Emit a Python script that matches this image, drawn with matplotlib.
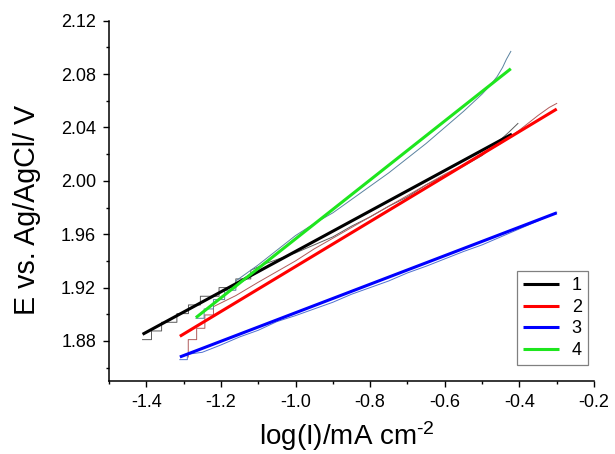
import matplotlib
matplotlib.use('Agg')
import matplotlib.pyplot as plt
from matplotlib.ticker import MultipleLocator

plt.rcParams['font.family'] = ['Liberation Sans', 'DejaVu Sans']
plt.rcParams['mathtext.default'] = 'regular'

# linear fits (Tafel lines)
fit_x1 = [-1.41, -0.42]
fit_y1 = [1.885, 2.035]
fit_x2 = [-1.31, -0.30]
fit_y2 = [1.8835, 2.0538]
fit_x3 = [-1.31, -0.30]
fit_y3 = [1.868, 1.976]
fit_x4 = [-1.267, -0.423]
fit_y4 = [1.8975, 2.084]

# measured curves (thin traces behind the fits)
dat_x1 = [-1.41, -1.386, -1.386, -1.359, -1.359, -1.318, -1.318, -1.287, -1.287, -1.255, -1.255,
          -1.205, -1.205, -1.16, -1.16, -1.12, -1.12, -1.08, -1.04, -1.00, -0.95, -0.90, -0.85,
          -0.80, -0.75, -0.70, -0.65, -0.60, -0.55, -0.50, -0.47, -0.45, -0.43, -0.404]
dat_y1 = [1.881, 1.881, 1.8875, 1.8875, 1.894, 1.894, 1.9005, 1.9005, 1.907, 1.907, 1.9135,
          1.9135, 1.920, 1.920, 1.9265, 1.9265, 1.933, 1.938, 1.942, 1.946, 1.952, 1.958, 1.966,
          1.973, 1.981, 1.988, 1.997, 2.004, 2.011, 2.019, 2.026, 2.031, 2.036, 2.043]

dat_x2 = [-1.2875, -1.2875, -1.265, -1.265, -1.243, -1.243, -1.220, -1.220, -1.16, -1.10, -1.05,
          -1.00, -0.95, -0.90, -0.85, -0.80, -0.75, -0.70, -0.65, -0.60, -0.55, -0.50, -0.45,
          -0.40, -0.35, -0.32, -0.30]
dat_y2 = [1.868, 1.881, 1.881, 1.8895, 1.8895, 1.8995, 1.8995, 1.9057, 1.914, 1.924, 1.932,
          1.940, 1.949, 1.957, 1.965, 1.973, 1.981, 1.989, 1.997, 2.005, 2.012, 2.020, 2.028,
          2.038, 2.049, 2.055, 2.058]

dat_x3 = [-1.31, -1.29, -1.29, -1.25, -1.20, -1.15, -1.10, -1.05, -1.00, -0.95, -0.90, -0.85,
          -0.80, -0.75, -0.70, -0.65, -0.60, -0.55, -0.50, -0.45, -0.40, -0.35, -0.30]
dat_y3 = [1.866, 1.866, 1.870, 1.8715, 1.877, 1.883, 1.888, 1.8945, 1.899, 1.904, 1.909, 1.915,
          1.920, 1.925, 1.931, 1.936, 1.9415, 1.947, 1.952, 1.958, 1.964, 1.970, 1.9765]

dat_x4 = [-1.267, -1.245, -1.245, -1.22, -1.22, -1.19, -1.19, -1.16, -1.16, -1.13, -1.10, -1.05,
          -1.00, -0.95, -0.90, -0.85, -0.80, -0.75, -0.70, -0.65, -0.60, -0.55, -0.50, -0.48,
          -0.46, -0.445, -0.435, -0.423]
dat_y4 = [1.897, 1.897, 1.904, 1.904, 1.911, 1.911, 1.918, 1.918, 1.925, 1.931, 1.937, 1.948,
          1.959, 1.968, 1.976, 1.986, 1.996, 2.006, 2.017, 2.028, 2.040, 2.052, 2.065, 2.071,
          2.078, 2.085, 2.091, 2.097]

labels = ['1', '2', '3', '4']
fit_colors = ['#000000', '#ff0000', '#0000ff', '#1ee61e']
dat_colors = ['#5a5a5a', '#b05a5a', '#5070d0', '#5a82a0']

fig = plt.figure(figsize=(6.15, 4.54), dpi=100)
ax = fig.add_axes([0.1772, 0.1608, 0.7887, 0.7936])

data = [(dat_x1, dat_y1), (dat_x2, dat_y2), (dat_x3, dat_y3), (dat_x4, dat_y4)]
fits = [(fit_x1, fit_y1), (fit_x2, fit_y2), (fit_x3, fit_y3), (fit_x4, fit_y4)]

for (x, y), c in zip(data, dat_colors):
    ax.plot(x, y, color=c, lw=0.7)
for (x, y), c, lab in zip(fits, fit_colors, labels):
    ax.plot(x, y, color=c, lw=2.2, label=lab, solid_capstyle='butt')

ax.set_xlim(-1.5, -0.2)
ax.set_ylim(1.85, 2.12)
ax.xaxis.set_minor_locator(MultipleLocator(0.1))
ax.yaxis.set_minor_locator(MultipleLocator(0.02))
ax.set_xticks([-1.4, -1.2, -1.0, -0.8, -0.6, -0.4, -0.2])
ax.set_xticklabels(['-1.4', '-1.2', '-1.0', '-0.8', '-0.6', '-0.4', '-0.2'])
ax.set_yticks([1.88, 1.92, 1.96, 2.00, 2.04, 2.08, 2.12])
ax.set_yticklabels(['1.88', '1.92', '1.96', '2.00', '2.04', '2.08', '2.12'])

for s in ['top', 'right']:
    ax.spines[s].set_visible(False)
for s in ['left', 'bottom']:
    ax.spines[s].set_linewidth(1.1)
ax.tick_params(which='major', direction='out', length=4.3, width=1.0, labelsize=13, pad=5)
ax.tick_params(which='minor', direction='out', length=2.5, width=1.0)

ax.set_xlabel('log(I)/mA cm$^{\u2010 2}$', fontsize=20)
ax.set_ylabel('E vs. Ag/AgCl/ V', fontsize=20.6)
ax.xaxis.set_label_coords(0.49, -0.105)
ax.yaxis.set_label_coords(-0.14, 0.475)

leg = ax.legend(loc='upper right', bbox_to_anchor=(0.9876, 0.305), borderaxespad=0,
                fontsize=13, handlelength=2.0, handletextpad=0.7, labelspacing=0.25,
                borderpad=0.35, fancybox=False, framealpha=1)
leg.get_frame().set_edgecolor('#808080')
leg.get_frame().set_linewidth(0.9)

fig.savefig('out.png', dpi=100)
